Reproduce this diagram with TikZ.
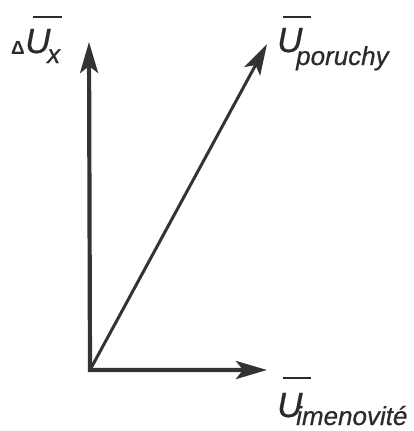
\documentclass[tikz,border=0pt]{standalone}
\usepackage{fontspec}
\setmainfont{Liberation Sans}[ItalicFeatures={FakeBold=0.6}]
\usetikzlibrary{arrows.meta}
\definecolor{vecgrey}{HTML}{333333}
\definecolor{lblgrey}{HTML}{2B2B2B}
\tikzset{
  vec/.style={line width=4.2pt,draw=vecgrey,
              arrows={-Stealth[length=31pt,width=18pt,inset=7pt]}},
  diag/.style={vec,line width=3pt},
  lbl/.style={font=\fontsize{35}{40}\selectfont\itshape,text=lblgrey,
              inner sep=0pt,anchor=base west},
  sublbl/.style={lbl,font=\fontsize{26}{30}\selectfont\itshape},
  dlt/.style={lbl,font=\fontsize{19}{22}\selectfont\bfseries},
  bar/.style={draw=lblgrey,line width=2.4pt},
}
\begin{document}
\begin{tikzpicture}[x=1pt,y=-1pt]
  \useasboundingbox (0,0) rectangle (413,431);

  % ---- the three vectors ----
  \coordinate (O)    at (90,370);
  \coordinate (tipx) at (267,370);
  \coordinate (tipy) at (89,42);
  \coordinate (tipp) at (267,44);
  \draw[vec,arrows={Stealth[length=31pt,width=18pt,inset=7pt]-Stealth[length=31pt,width=18pt,inset=7pt]}]
    (tipy) -- (O) -- (tipx);
  \draw[diag] (O) -- (tipp);

  % ---- label of the vertical vector ----
  \node[dlt] (dU) at (11,54) {Δ};
  \node[lbl] (Ux) at (25,53) {U};
  \node[sublbl] (Uxsub) at (47,63) {x};
  \draw[bar] (33,17) -- (62,17);

  % ---- label of the diagonal vector ----
  \node[lbl] (Upor) at (277,52) {U};
  \node[sublbl] (Uporsub) at (296,65) {poruchy};
  \draw[bar] (283,17) -- (311,17);

  % ---- label of the horizontal vector ----
  \node[lbl] (Uimen) at (277,417) {U};
  \node[sublbl] (Uimensub) at (296,425) {imenovité};
  \draw[bar] (283,378) -- (311,378);
\end{tikzpicture}
\end{document}
